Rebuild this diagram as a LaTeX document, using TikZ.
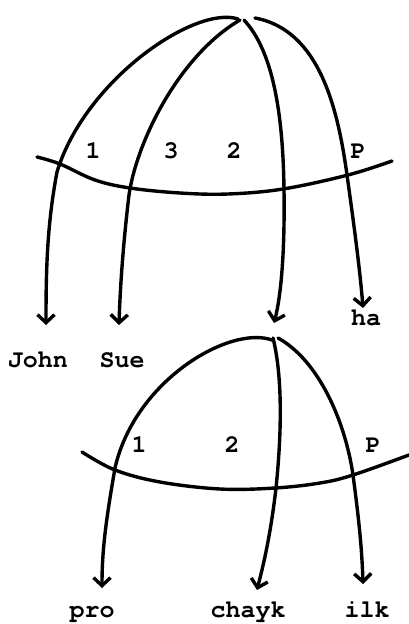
\documentclass[tikz,border=0pt]{standalone}
\usepackage{fontspec}
\setmonofont{TeX Gyre Cursor}
\usetikzlibrary{arrows.meta}
\tikzset{
  lbl/.style={font=\ttfamily\bfseries\fontsize{25}{29}\selectfont, inner sep=0pt, anchor=base},
  arc/.style={line width=3.4pt, line cap=round, line join=round},
  arr/.style={arc, -{Straight Barb[length=8pt,width=17pt]}},
}
\begin{document}
\begin{tikzpicture}[x=1pt,y=-1pt]
\useasboundingbox (0,0) rectangle (409,624);
% ---------- top diagram ----------
\coordinate (A1) at (238,19);
\coordinate (A2) at (240,20);
\coordinate (A3) at (244,20);
\coordinate (A4) at (255,18);
\node[lbl] (john) at (38,367) {John};
\node[lbl] (sue) at (122,367) {Sue};
\node[lbl] (ha) at (366,325) {ha};
\coordinate (tJohn) at (46,325);
\coordinate (tSue) at (119,325);
\coordinate (tTwo) at (274,323);
\coordinate (tHa) at (363,308);
\node[lbl] (n1) at (93,158) {1};
\node[lbl] (n3) at (171,158) {3};
\node[lbl] (n2) at (234,158) {2};
\node[lbl] (nP) at (358,158) {P};
\draw[arr] (A1) .. controls (195,5) and (85,80) .. (57,172)
  .. controls (47,225) and (46,270) .. (tJohn);
\draw[arr] (A2) .. controls (180,55) and (137,140) .. (129,195)
  .. controls (123,245) and (120,290) .. (tSue);
\draw[arr] (A3) .. controls (272,50) and (283,110) .. (284,190)
  .. controls (285,260) and (280,300) .. (tTwo);
\draw[arr] (A4) .. controls (320,30) and (338,110) .. (347,175)
  .. controls (354,225) and (360,270) .. (tHa);
\draw[arc] plot[smooth, tension=0.6] coordinates
  {(37,157) (60,164) (95,180) (130,188) (180,193) (228,194) (283,189) (348,175) (392,161)};
% ---------- bottom diagram ----------
\coordinate (B1) at (272,340);
\coordinate (B2) at (273,338);
\coordinate (B3) at (278,338);
\node[lbl] (pro) at (92,617) {pro};
\node[lbl] (chayk) at (248,617) {chayk};
\node[lbl] (ilk) at (367,617) {ilk};
\coordinate (tPro) at (102,588);
\coordinate (tChayk) at (257,590);
\coordinate (tIlk) at (363,584);
\node[lbl] (m1) at (139,452) {1};
\node[lbl] (m2) at (232,452) {2};
\node[lbl] (mP) at (373,452) {P};
\draw[arr] (B1) .. controls (230,325) and (135,380) .. (115,468)
  .. controls (106,520) and (102,550) .. (tPro);
\draw[arr] (B2) .. controls (281,370) and (283,420) .. (276,488)
  .. controls (270,540) and (262,570) .. (tChayk);
\draw[arr] (B3) .. controls (318,360) and (345,420) .. (353,475)
  .. controls (359,520) and (362,550) .. (tIlk);
\draw[arc] plot[smooth, tension=0.6] coordinates
  {(82,452) (115,470) (160,482) (220,489) (275,488) (320,483) (353,475) (409,455)};
\end{tikzpicture}
\end{document}
